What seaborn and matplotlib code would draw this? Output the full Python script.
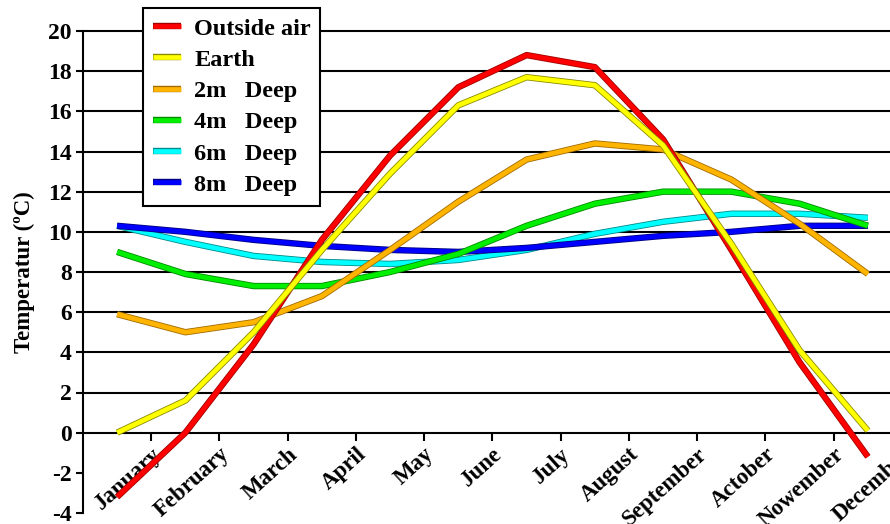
import numpy as np
import pandas as pd
import matplotlib
matplotlib.use("Agg")
import matplotlib.pyplot as plt
import matplotlib.patheffects as pe
import seaborn as sns

# ----------------------------------------------
# Data
# ----------------------------------------------
months = ["January", "February", "March", "April", "May", "June", "July",
          "August", "September", "Actober", "Nowember", "December"]
outside_air = [-3.2, 0.0, 4.4, 9.6, 13.8, 17.2, 18.8, 18.2, 14.6, 9.1, 3.5, -1.2]
earth = [0.0, 1.6, 5.0, 9.1, 12.9, 16.3, 17.7, 17.3, 14.3, 9.4, 4.1, 0.1]
deep_2m = [5.9, 5.0, 5.5, 6.8, 9.1, 11.5, 13.6, 14.4, 14.1, 12.6, 10.4, 7.9]
deep_4m = [9.0, 7.9, 7.3, 7.3, 8.0, 8.9, 10.3, 11.4, 12.0, 12.0, 11.4, 10.3]
deep_6m = [10.3, 9.5, 8.8, 8.5, 8.4, 8.6, 9.1, 9.9, 10.5, 10.9, 10.9, 10.7]
deep_8m = [10.3, 10.0, 9.6, 9.3, 9.1, 9.0, 9.2, 9.5, 9.8, 10.0, 10.3, 10.3]

series_names = ["Outside air", "Earth", "2m   Deep", "4m   Deep", "6m   Deep", "8m   Deep"]
series_values = [outside_air, earth, deep_2m, deep_4m, deep_6m, deep_8m]
line_colors = ["#ff0000", "#ffff00", "#ffb400", "#00ee00", "#00ffff", "#0000ff"]
edge_colors = ["#a00000", "#8a8a00", "#a06a00", "#008a00", "#008a8a", "#000080"]
draw_order = [5, 6, 4, 3, 1, 2]  # yellow sits on top of red

y_ticks = np.arange(-4, 21, 2)

# ----------------------------------------------
# Figure setup
# ----------------------------------------------
sns.set_style("white")
plt.rcParams["font.family"] = ["Liberation Serif", "DejaVu Serif"]
plt.rcParams["text.color"] = "black"
plt.rcParams["axes.labelcolor"] = "black"
plt.rcParams["xtick.color"] = "black"
plt.rcParams["ytick.color"] = "black"

fig = plt.figure(figsize=(8.9, 5.24), dpi=100)
ax = fig.add_axes([83 / 890, 11 / 524, 819 / 890, 482 / 524])

x_pos = np.arange(len(months))
for name, vals, col, z in zip(series_names, series_values, line_colors, draw_order):
    df = pd.DataFrame({"month": x_pos, "temp": vals})
    sns.lineplot(data=df, x="month", y="temp", color=col, lw=3.4,
                 label=name, ax=ax, zorder=3 + z)

for line, edge in zip(ax.lines, edge_colors):
    line.set_path_effects([pe.Stroke(linewidth=4.6, foreground=edge), pe.Normal()])
    line.set_solid_capstyle("butt")

# horizontal grid lines (only from 0 upwards, like the original)
ax.hlines([v for v in y_ticks if v > 0], -0.5, 11.5, colors="black",
          lw=1.5, zorder=1, clip_on=False)

ax.set_xlim(-0.5, 11.5)
ax.set_ylim(-4, 20)

for s in ["top", "right"]:
    ax.spines[s].set_visible(False)
ax.spines["bottom"].set_position(("data", 0))
for s in ["bottom", "left"]:
    ax.spines[s].set_linewidth(1.5)
    ax.spines[s].set_color("black")

ax.set_yticks(y_ticks)
ax.set_yticklabels([str(v) for v in y_ticks], fontsize=17, fontweight="bold")
ax.set_xticks(x_pos + 0.5)
ax.set_xticklabels(months, rotation=42, ha="right", va="top",
                   rotation_mode="anchor", fontsize=16.5, fontweight="bold")
ax.tick_params(axis="y", direction="out", length=5, width=1.5, pad=3, left=True)
ax.tick_params(axis="x", direction="out", length=6, width=1.5, pad=2, bottom=True)

ax.set_xlabel("")
ax.set_ylabel("Temperatur (ºC)", fontsize=16.5, fontweight="bold")
ax.yaxis.set_label_coords(-0.059, 0.5)

leg = ax.legend(loc="upper left", bbox_to_anchor=(143 / 890, 1 - 8 / 524),
                bbox_transform=fig.transFigure, borderaxespad=0,
                fancybox=False, framealpha=1, edgecolor="black",
                prop={"weight": "bold", "size": 17.5}, handlelength=1.15,
                handletextpad=0.55, labelspacing=0.38, borderpad=0.4)
leg.get_frame().set_linewidth(1.5)

fig.savefig("out.png", dpi=100)
